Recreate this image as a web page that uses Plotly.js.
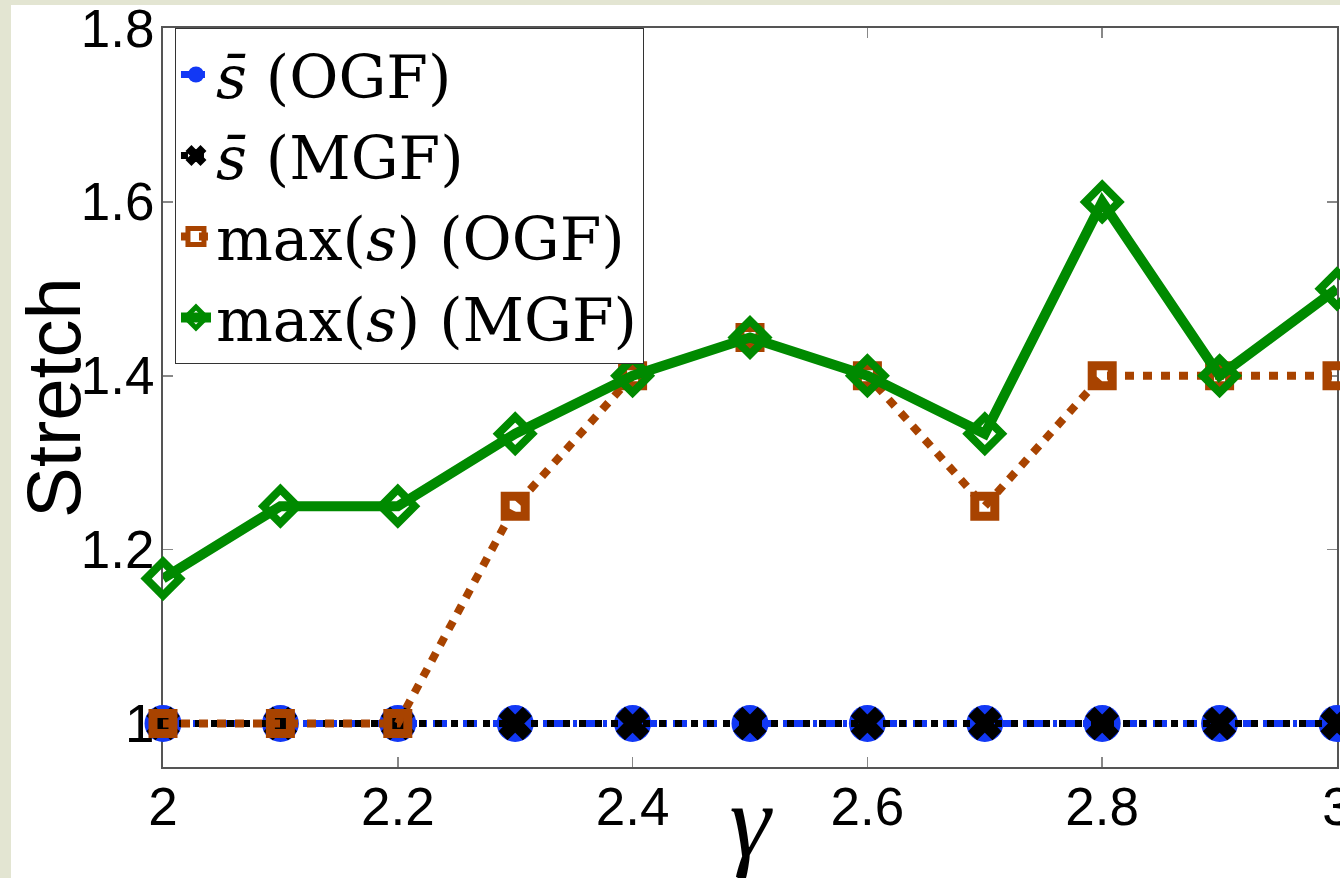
<!DOCTYPE html>
<html><head><meta charset="utf-8">
<script src="https://cdn.plot.ly/plotly-3.0.1.min.js"></script>
<style>
html,body{margin:0;padding:0;background:#e3e5d2;width:1340px;height:878px;overflow:hidden;}
#chart{position:absolute;left:11px;top:5px;width:1329px;height:873px;background:#fff;}
</style></head><body><div id="chart"></div>
<script>
const gamma = [2.0, 2.1, 2.2, 2.3, 2.4, 2.5, 2.6, 2.7, 2.8, 2.9, 3.0];
const meanStretchOGF = [1, 1, 1, 1, 1, 1, 1, 1, 1, 1, 1];
const meanStretchMGF = [1, 1, 1, 1, 1, 1, 1, 1, 1, 1, 1];
const maxStretchOGF = [1, 1, 1, 1.25, 1.4, 1.444, 1.4, 1.25, 1.4, 1.4, 1.4];
const maxStretchMGF = [1.1667, 1.25, 1.25, 1.3333, 1.4, 1.444, 1.4, 1.3333, 1.6, 1.4, 1.5];
const seriesNames = ['<i>s\u0304</i> (OGF)', '<i>s\u0304</i> (MGF)', 'max(<i>s</i>) (OGF)', 'max(<i>s</i>) (MGF)'];
const xTickVals = [2, 2.2, 2.4, 2.6, 2.8, 3];
const xTickText = ['2', '2.2', '2.4', '2.6', '2.8', '3'];
const yTickVals = [1, 1.2, 1.4, 1.6, 1.8];
const yTickText = ['1', '1.2', '1.4', '1.6', '1.8'];

const blue = '#1238f5', brown = '#a84300', green = '#008a00';

const traces = [
  {x: gamma, y: meanStretchOGF, name: seriesNames[0], type: 'scatter', mode: 'lines+markers', cliponaxis: false,
   line: {color: blue, width: 7, dash: '14px,6px,4px,6px'},
   marker: {symbol: 'circle', size: 37, color: blue, line: {width: 0}}},
  {x: gamma, y: meanStretchMGF, name: seriesNames[1], type: 'scatter', mode: 'lines+markers', cliponaxis: false,
   line: {color: '#000', width: 7, dash: '7px,9px'},
   marker: {symbol: 'x', size: 27, color: '#000', line: {width: 2, color: '#000'}}},
  {x: gamma, y: maxStretchOGF, name: seriesNames[2], type: 'scatter', mode: 'lines+markers', cliponaxis: false,
   line: {color: brown, width: 8, dash: '9px,9px'},
   marker: {symbol: 'square-open', size: 20, color: brown, line: {width: 9, color: brown}}},
  {x: gamma, y: maxStretchMGF, name: seriesNames[3], type: 'scatter', mode: 'lines+markers', cliponaxis: false,
   line: {color: green, width: 10},
   marker: {symbol: 'diamond-open', size: 26, color: green, line: {width: 8, color: green}}}
];

const axisFont = {family: 'Liberation Sans, Arial, sans-serif', size: 53, color: '#000'};

const layout = {
  width: 1329, height: 873,
  margin: {l: 152, r: 3, t: 23, b: 111, pad: 0},
  paper_bgcolor: '#ffffff', plot_bgcolor: '#ffffff',
  showlegend: true,
  legend: {x: 0.0102, y: 1, xanchor: 'left', yanchor: 'top', bgcolor: '#ffffff',
           bordercolor: '#333', borderwidth: 1,
           font: {family: 'DejaVu Serif, serif', size: 60, color: '#000'}},
  xaxis: {range: [2, 3], tickvals: xTickVals, ticktext: xTickText, tickfont: axisFont,
          ticks: 'inside', ticklen: 10, tickwidth: 1.5, tickcolor: '#888',
          ticklabeloverflow: 'allow', ticklabelstandoff: -8,
          showline: true, linecolor: '#555', linewidth: 2, mirror: 'ticks',
          showgrid: false, zeroline: false, layer: 'below traces', automargin: false,
          title: {text: '<i>γ</i>', font: {family: 'Liberation Serif, Times New Roman, serif', size: 104, color: '#000'}, standoff: 8}},
  yaxis: {range: [0.95, 1.8], tickvals: yTickVals, ticktext: yTickText, tickfont: axisFont,
          ticks: 'inside', ticklen: 10, tickwidth: 1.5, tickcolor: '#888',
          ticklabeloverflow: 'allow', ticklabelstandoff: -4,
          showline: true, linecolor: '#555', linewidth: 2, mirror: 'ticks',
          showgrid: false, zeroline: false, layer: 'below traces', automargin: false,
          title: {text: 'Stretch', font: {family: 'Liberation Sans, Arial, sans-serif', size: 76, color: '#000'}, standoff: 10}}
};

Plotly.newPlot('chart', traces, layout, {displayModeBar: false, staticPlot: true});
</script></body></html>
